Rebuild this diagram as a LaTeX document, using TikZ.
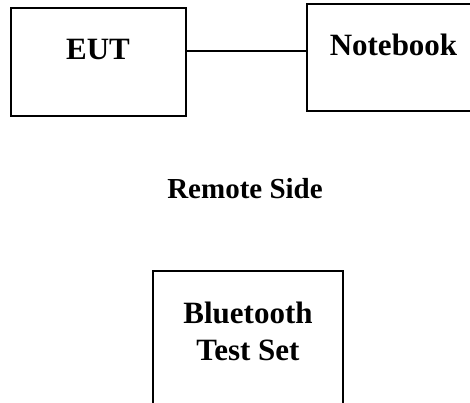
\documentclass[tikz,border=0pt]{standalone}
\usepackage{fontspec}
\setmainfont{Liberation Serif}
\begin{document}
\begin{tikzpicture}[x=1pt,y=1pt,
  boxnode/.style={draw=black,line width=1.3pt,rectangle,inner sep=0pt},
  lbl/.style={font=\bfseries\fontsize{31}{37}\selectfont,inner sep=0pt,anchor=base}]
\useasboundingbox (0,0) rectangle (470,-403);
\node[boxnode,minimum width=175,minimum height=108] (eut) at (98.5,-62) {};
\node[boxnode,minimum width=175,minimum height=107] (nb) at (394.5,-57.5) {};
\node[boxnode,minimum width=190,minimum height=160] (bt) at (248,-351) {};
\node[lbl] (eutt) at (98,-60) {EUT};
\node[lbl] (nbt) at (393.5,-56) {Notebook};
\node[lbl,font=\bfseries\fontsize{29}{35}\selectfont] (rs) at (245,-198) {Remote Side};
\node[lbl] (bt1) at (248,-323) {Bluetooth};
\node[lbl] (bt2) at (248,-360) {Test Set};
\coordinate (lk) at (0,-51);
\draw[line width=1.3pt] (eut.east |- lk) -- (nb.west |- lk);
\end{tikzpicture}
\end{document}
